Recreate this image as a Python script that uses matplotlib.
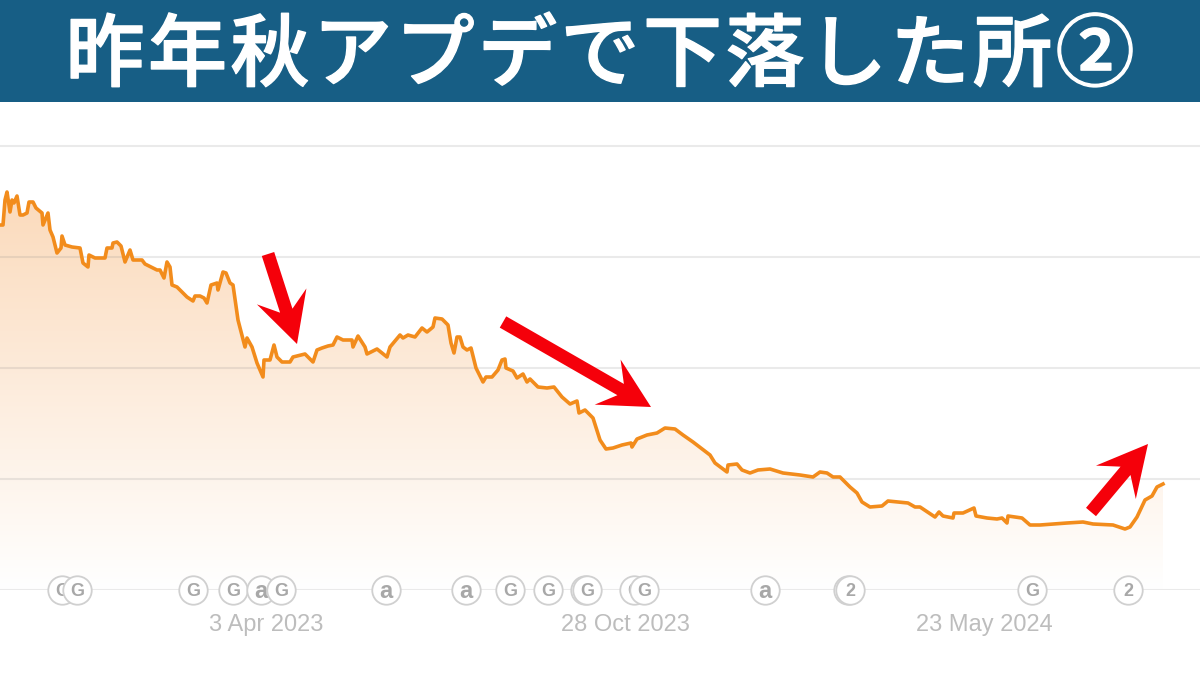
# -*- coding: utf-8 -*-
import numpy as np
import matplotlib
matplotlib.use("Agg")
import matplotlib.pyplot as plt
import matplotlib.patheffects as pe
from matplotlib.colors import LinearSegmentedColormap
from matplotlib.patches import FancyArrow, Polygon, Rectangle

plt.rcParams['font.family'] = ['Liberation Sans', 'DejaVu Sans']

title = "昨年秋アプデで下落した所②"

# time position along the axis, and height of the line above the baseline
time_pos = [0, 3, 5, 7, 10, 12, 14, 17, 20, 23, 27, 29, 33, 36, 42, 43, 48, 50, 53, 57,
            61, 62, 65, 72, 80, 83, 88, 89, 95, 105, 107, 112, 113, 117, 121, 125, 130, 133, 142, 145,
            157, 160, 164, 167, 170, 172, 177, 187, 193, 195, 200, 204, 207, 211, 217, 218, 223, 226, 230, 233,
            238, 245, 247, 252, 257, 263, 264, 270, 274, 277, 282, 290, 293, 305, 313, 317, 322, 328, 333, 337,
            343, 352, 353, 358, 365, 367, 377, 387, 390, 400, 403, 408, 415, 422, 427, 433, 435, 442, 448, 451,
            454, 457, 460, 463, 467, 471, 476, 483, 486, 492, 498, 502, 505, 506, 513, 517, 523, 527, 530, 538,
            547, 554, 562, 570, 577, 579, 585, 593, 600, 606, 613, 622, 631, 632, 637, 647, 657, 665, 675, 683,
            693, 710, 715, 727, 728, 737, 742, 750, 758, 770, 783, 800, 813, 820, 827, 833, 840, 850, 857, 862,
            870, 882, 888, 908, 915, 920, 935, 939, 943, 953, 954, 963, 974, 976, 987, 997, 1002, 1007, 1008, 1022,
            1030, 1040, 1067, 1083, 1093, 1113, 1125, 1130, 1137, 1145, 1152, 1157, 1163]
values = [365, 365, 390, 398, 378, 390, 387, 394, 375, 375, 377, 388, 388, 382, 377, 365, 377, 360, 353, 337,
          342, 354, 345, 343, 342, 327, 323, 335, 332, 332, 342, 342, 347, 348, 344, 328, 340, 330, 330, 326,
          320, 320, 312, 328, 323, 305, 303, 293, 289, 294, 294, 292, 287, 305, 307, 300, 318, 317, 307, 305,
          270, 243, 252, 243, 227, 213, 230, 230, 245, 233, 228, 228, 233, 236, 228, 240, 242, 244, 245, 253,
          250, 250, 243, 254, 243, 236, 241, 233, 243, 255, 252, 255, 253, 262, 258, 263, 272, 271, 265, 247,
          237, 253, 253, 243, 240, 242, 222, 208, 213, 213, 220, 230, 231, 222, 219, 212, 216, 208, 211, 203,
          202, 203, 193, 186, 189, 177, 180, 172, 150, 141, 142, 145, 147, 143, 151, 155, 157, 162, 161, 155,
          148, 135, 127, 118, 125, 126, 120, 117, 120, 121, 117, 115, 113, 118, 117, 113, 113, 103, 97, 88,
          83, 84, 89, 87, 83, 83, 73, 78, 74, 72, 77, 77, 82, 74, 72, 71, 72, 67, 74, 72,
          65, 65, 67, 68, 66, 65, 61, 63, 73, 90, 94, 103, 106]

grid_values = [0, 111, 222, 333, 444]

tick_pos = [266, 625, 984]
tick_labels = ["3 Apr 2023", "28 Oct 2023", "23 May 2024"]

event_pos = [62, 77, 193, 233, 261, 281, 386, 466, 510, 548, 585, 587, 634, 644, 765, 848, 850, 1032, 1128]
event_labels = ["G", "G", "G", "G", "a", "G", "a", "a", "G", "G", "G", "G", "G", "G", "a", "2", "2", "G", "2"]

# arrows: start x, start y, tip x, tip y
arrows = [(268, 336, 297, 246),
          (503, 268, 651, 183),
          (1091, 78, 1148, 146)]


def red_arrow(ax, x0, y0, x1, y1):
    head = FancyArrow(x0, y0, x1 - x0, y1 - y0, width=13, head_width=52, head_length=50,
                      length_includes_head=True, overhang=0.3, color="#f5000a", lw=0, zorder=60)
    ax.add_patch(head)


def main():
    fig = plt.figure(figsize=(12, 6.75), dpi=100, facecolor="white")
    ax = fig.add_axes([0, 85 / 675, 1, 488 / 675])
    ax.set_xlim(0, 1200)
    ax.set_ylim(0, 488)

    # area under the line, fading out to white
    fade = LinearSegmentedColormap.from_list("fade", ["#ffffff", "#fbdabb"])
    grad = np.linspace(1, 0, 256).reshape(-1, 1)
    img = ax.imshow(grad, extent=[0, 1200, 0, 400], aspect="auto", cmap=fade, vmin=0, vmax=1, zorder=1)
    outline = list(zip(time_pos, values)) + [(time_pos[-1], 0), (time_pos[0], 0)]
    clip = Polygon(outline, closed=True, transform=ax.transData)
    img.set_clip_path(clip)
    ax.set_xlim(0, 1200)
    ax.set_ylim(0, 488)

    for g in grid_values:
        ax.axhline(g, color="#808080", alpha=0.16, lw=1.5, zorder=2)

    ax.plot(time_pos, values, color="#f28c1c", lw=2.6, solid_joinstyle="round", zorder=3)

    # event badges on the baseline, later ones cover earlier ones
    for i, (x, lab) in enumerate(zip(event_pos, event_labels)):
        z = 4 + i * 2
        ax.plot([x], [0], "o", ms=20.5, mfc="white", mec="#d0d0d0", mew=1.3, clip_on=False, zorder=z)
        size = 17 if lab == "a" else 13
        ax.text(x, -1.5, lab, ha="center", va="center", fontsize=size, color="#a8a8a8",
                fontweight="bold", clip_on=False, zorder=z + 1)

    for a in arrows:
        red_arrow(ax, *a)

    ax.set_xticks(tick_pos)
    ax.set_xticklabels(tick_labels, fontsize=17, color="#bdbdbd")
    ax.set_yticks([])
    ax.tick_params(axis="x", length=0, pad=17)
    for s in ax.spines.values():
        s.set_visible(False)
    ax.patch.set_visible(False)

    # title band
    fig.add_artist(Rectangle((0, 573 / 675), 1, 102 / 675, transform=fig.transFigure,
                             facecolor="#175e85", edgecolor="none"))
    for i, ch in enumerate(title):
        t = fig.text((105 + i * 82.5) / 1200, 1 - 57.5 / 675, ch, color="white", fontsize=57, fontweight=500,
                     ha="center", va="center", family=["Noto Sans CJK JP", "DejaVu Sans"])
        t.set_path_effects([pe.withStroke(linewidth=1.0, foreground="white")])

    fig.savefig("out.png", dpi=100)


if __name__ == "__main__":
    main()
